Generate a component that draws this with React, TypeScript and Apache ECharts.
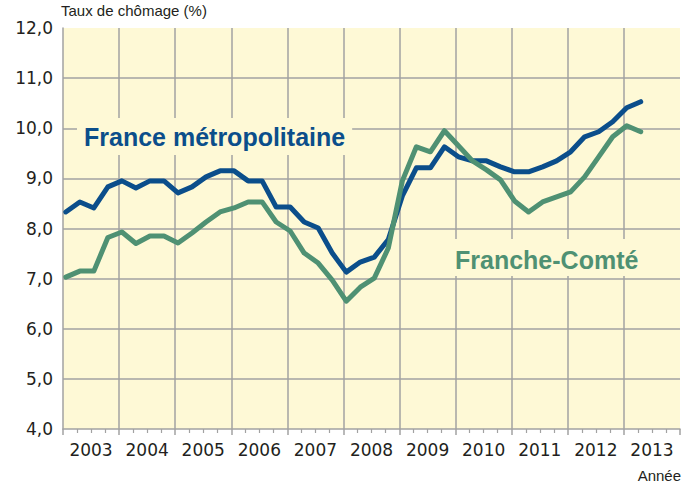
import React, { useEffect, useRef } from "react";
import * as echarts from "echarts";

const years = ["2003", "2004", "2005", "2006", "2007", "2008", "2009", "2010", "2011", "2012", "2013"];
const firstYear = 2003;
// quarterly values, 2003 T1 .. 2013 T2
const franceMetro = [
  8.33, 8.53, 8.41, 8.83, 8.95, 8.81, 8.95, 8.95, 8.71, 8.83,
  9.03, 9.15, 9.15, 8.95, 8.95, 8.43, 8.43, 8.13, 8.01, 7.51,
  7.13, 7.33, 7.43, 7.78, 8.65, 9.21, 9.21, 9.63, 9.43, 9.35,
  9.35, 9.23, 9.13, 9.13, 9.23, 9.35, 9.53, 9.83, 9.93, 10.13,
  10.41, 10.53,
];
const francheComte = [
  7.03, 7.15, 7.15, 7.82, 7.93, 7.7, 7.85, 7.85, 7.71, 7.91,
  8.13, 8.33, 8.41, 8.53, 8.53, 8.13, 7.95, 7.51, 7.31, 6.97,
  6.55, 6.83, 7.01, 7.61, 8.95, 9.63, 9.53, 9.95, 9.65, 9.35,
  9.17, 8.97, 8.55, 8.33, 8.53, 8.63, 8.73, 9.03, 9.43, 9.83,
  10.05, 9.93,
];
const quarterOffset = 0.05;

const BLUE = "#0b4e8b";
const GREEN = "#4f9173";
const BG = "#fef9d6";
const GRID = "#a2a2a2";
const TXT = "#231f20";

const toPoints = (vals: number[]) =>
  vals.map((v, i) => [firstYear + i * 0.25 + quarterOffset, v]);

export default function App() {
  const ref = useRef<HTMLDivElement>(null);
  useEffect(() => {
    if (!ref.current) return;
    const chart = echarts.init(ref.current, null, { renderer: "svg" });
    chart.setOption({
      animation: false,
      backgroundColor: "#ffffff",
      grid: {
        left: 63,
        top: 28,
        right: 2,
        bottom: 55,
        show: true,
        backgroundColor: BG,
        borderWidth: 0,
      },
      xAxis: [
        {
          type: "value",
          min: 2003,
          max: 2014,
          interval: 1,
          position: "bottom",
          axisLine: { show: true, lineStyle: { color: GRID, width: 1.5 } },
          axisTick: { show: true, length: 6, lineStyle: { color: GRID, width: 1.5 } },
          minorTick: { show: true, splitNumber: 4, length: 4, lineStyle: { color: GRID, width: 1.2 } },
          axisLabel: { show: false },
          splitLine: {
            show: true,
            showMinLine: false,
            showMaxLine: false,
            lineStyle: { color: GRID, width: 1.5 },
          },
        },
        {
          type: "category",
          data: years,
          position: "bottom",
          boundaryGap: true,
          axisLine: { show: false },
          axisTick: { show: false },
          splitLine: { show: false },
          axisLabel: {
            interval: 0,
            hideOverlap: false,
            margin: 12,
            fontFamily: "DejaVu Sans",
            fontSize: 17,
            color: TXT,
          },
        },
      ],
      yAxis: {
        type: "value",
        min: 4,
        max: 12,
        interval: 1,
        axisLine: { show: true, lineStyle: { color: GRID, width: 1.5 } },
        axisTick: { show: false },
        axisLabel: {
          margin: 10,
          fontFamily: "DejaVu Sans",
          fontSize: 17,
          color: TXT,
          formatter: (v: number) => v.toFixed(1).replace(".", ","),
        },
        splitLine: {
          show: true,
          showMinLine: false,
          showMaxLine: false,
          lineStyle: { color: GRID, width: 1.5 },
        },
      },
      series: [
        {
          name: "France métropolitaine",
          type: "line",
          xAxisIndex: 0,
          data: toPoints(franceMetro),
          showSymbol: false,
          lineStyle: { color: BLUE, width: 5, join: "round", cap: "round" },
          z: 3,
        },
        {
          name: "Franche-Comté",
          type: "line",
          xAxisIndex: 0,
          data: toPoints(francheComte),
          showSymbol: false,
          lineStyle: { color: GREEN, width: 5, join: "round", cap: "round" },
          z: 4,
        },
      ],
      graphic: [
        {
          type: "text",
          x: 61,
          y: 3,
          style: {
            text: "Taux de chômage (%)",
            font: '15px "Liberation Sans"',
            fill: TXT,
          },
        },
        {
          type: "text",
          x: 681,
          y: 468,
          style: {
            text: "Année",
            font: '15px "Liberation Sans"',
            fill: TXT,
            align: "right",
          },
        },
        {
          type: "text",
          x: 77,
          y: 118,
          z: 10,
          style: {
            text: "France métropolitaine",
            font: 'bold 25px "Liberation Sans"',
            fill: BLUE,
            verticalAlign: "top",
            backgroundColor: BG,
            padding: [6, 7, 6, 7],
          },
        },
        {
          type: "text",
          x: 447,
          y: 239,
          z: 10,
          style: {
            text: "Franche-Comté",
            font: 'bold 25px "Liberation Sans"',
            fill: GREEN,
            verticalAlign: "top",
            backgroundColor: BG,
            padding: [8, 8, 4, 8],
          },
        },
      ],
    });
    return () => chart.dispose();
  }, []);
  return (
    <div
      ref={ref}
      style={{ position: "fixed", left: 0, top: 0, width: 682, height: 484 }}
    />
  );
}
